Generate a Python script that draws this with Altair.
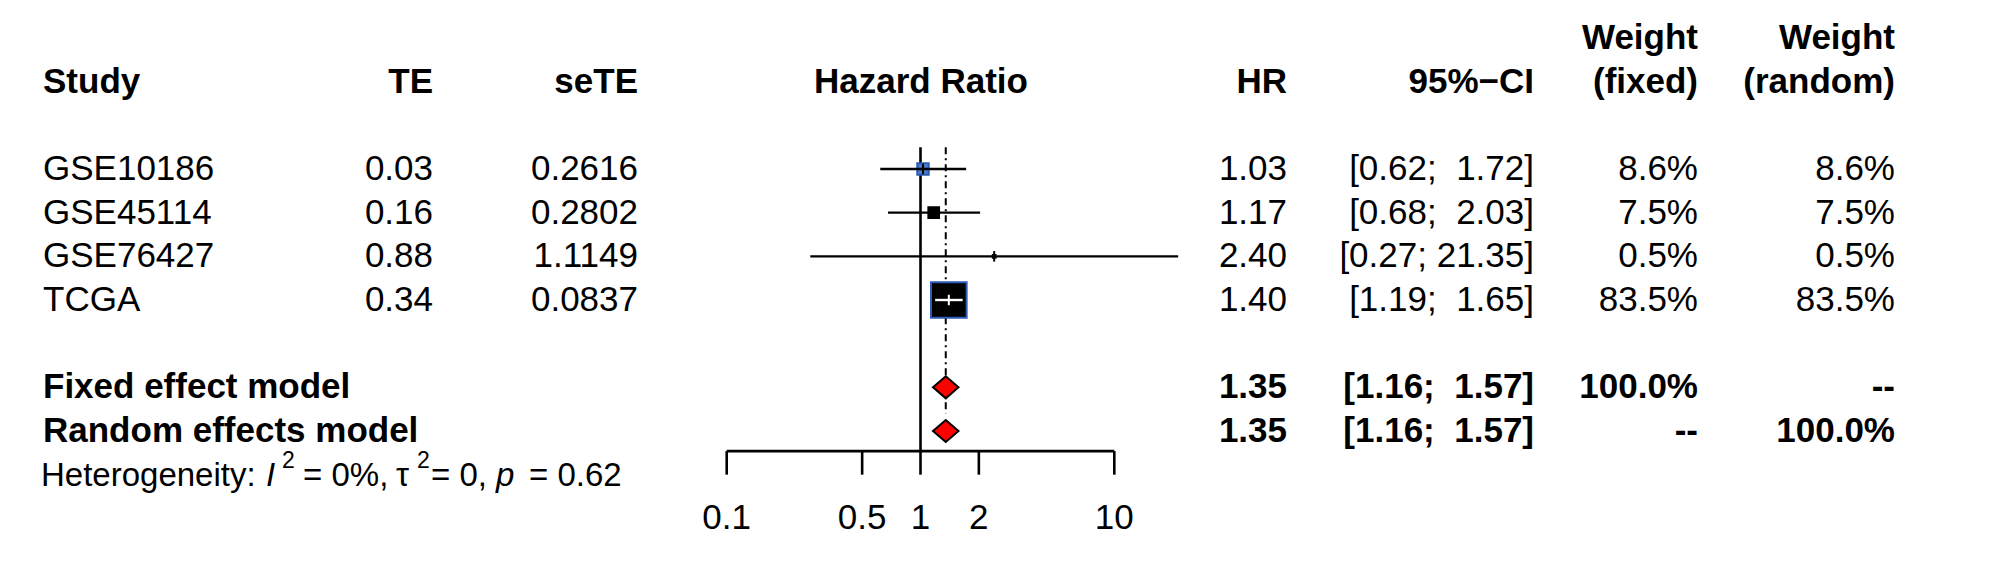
import altair as alt
import pandas as pd

# ---------------- data ----------------
studies = ["GSE10186", "GSE45114", "GSE76427", "TCGA"]
te = [0.03, 0.16, 0.88, 0.34]
sete = [0.2616, 0.2802, 1.1149, 0.0837]
hr = [1.03, 1.17, 2.40, 1.40]
ci_lower = [0.62, 0.68, 0.27, 1.19]
ci_upper = [1.72, 2.03, 21.35, 1.65]
w_fixed = [8.6, 7.5, 0.5, 83.5]
w_random = [8.6, 7.5, 0.5, 83.5]

models = ["Fixed effect model", "Random effects model"]
model_hr = [1.35, 1.35]
model_lower = [1.16, 1.16]
model_upper = [1.57, 1.57]
model_wf = ["100.0%", "--"]
model_wr = ["--", "100.0%"]

axis_ticks = [0.1, 0.5, 1, 2, 10]
null_value = 1

# ---------------- layout ----------------
W, H = 1992, 558
FONT = "Liberation Sans"
FS = 35
ROW_PX = 43.67
ROW0 = 161.0
YS = alt.Scale(domain=[-ROW0 / ROW_PX, (H - ROW0) / ROW_PX], reverse=True, nice=False, zero=False)
DEC = 193.8
X01 = 718.7
XS = alt.Scale(type="log", domain=[10 ** (-1 - X01 / DEC), 10 ** (1 + (W - X01 - 2 * DEC) / DEC)], nice=False)

def ci_text(l, u):
    return f"[{l:.2f}; {u:>5.2f}]".replace(" ", "\u00a0")

study_df = pd.DataFrame({
    "study": studies,
    "r": list(range(len(studies))),
    "te": [f"{v:.2f}" for v in te],
    "sete": [f"{v:.4f}" for v in sete],
    "hr": hr,
    "hr_s": [f"{v:.2f}" for v in hr],
    "lower": ci_lower,
    "upper": ci_upper,
    "ci": [ci_text(l, u) for l, u in zip(ci_lower, ci_upper)],
    "wf_v": w_fixed,
    "wf": [f"{v:.1f}%" for v in w_fixed],
    "wr": [f"{v:.1f}%" for v in w_random],
})

model_df = pd.DataFrame({
    "study": models,
    "r": [5, 6],
    "hr": model_hr,
    "hr_s": [f"{v:.2f}" for v in model_hr],
    "lower": model_lower,
    "upper": model_upper,
    "ci": [ci_text(l, u) for l, u in zip(model_lower, model_upper)],
    "wf": model_wf,
    "wr": model_wr,
})

def ytxt(field="r:Q"):
    return alt.Y(field, scale=YS, axis=None)

def text_layer(df, field, x, align, bold=False, size=FS):
    return alt.Chart(df).mark_text(
        align=align, baseline="middle", font=FONT, fontSize=size,
        fontWeight="bold" if bold else "normal", color="black"
    ).encode(x=alt.value(x), y=ytxt(), text=alt.Text(field + ":N"))

layers = []

# header
header_df = pd.DataFrame({
    "label": ["Study", "TE", "seTE", "Hazard Ratio", "HR", "95%\u2212CI", "Weight", "(fixed)", "Weight", "(random)"],
    "r": [-2, -2, -2, -2, -2, -2, -3, -2, -3, -2],
    "col": ["study", "te", "sete", "plot", "hr", "ci", "wf", "wf", "wr", "wr"],
})
col_x = {"study": (35, "left"), "te": (425, "right"), "sete": (630, "right"),
         "plot": (913, "center"), "hr": (1279, "right"), "ci": (1526, "right"),
         "wf": (1690, "right"), "wr": (1887, "right")}
for c, (x, a) in col_x.items():
    sub = header_df[header_df.col == c]
    layers.append(text_layer(sub, "label", x, a, bold=True))

# study rows text
for field, c in [("study", "study"), ("te", "te"), ("sete", "sete"), ("hr_s", "hr"),
                 ("ci", "ci"), ("wf", "wf"), ("wr", "wr")]:
    x, a = col_x[c]
    layers.append(text_layer(study_df, field, x, a))
# model rows text (bold)
for field, c in [("study", "study"), ("hr_s", "hr"), ("ci", "ci"), ("wf", "wf"), ("wr", "wr")]:
    x, a = col_x[c]
    layers.append(text_layer(model_df, field, x, a, bold=True))

# heterogeneity line (pieces: plotmath-like layout)
HET_R = 7.03
SUP_R = 6.68
het_pieces = [
    ("Heterogeneity:", 33, HET_R, "normal", 33),
    ("I", 258, HET_R, "italic", 33),
    ("2", 274, SUP_R, "normal", 23),
    ("= 0%,", 295, HET_R, "normal", 33),
    ("\u03c4", 388, HET_R, "normal", 33),
    ("2", 409, SUP_R, "normal", 23),
    ("= 0,", 423, HET_R, "normal", 33),
    ("p", 488, HET_R, "italic", 33),
    ("= 0.62", 521, HET_R, "normal", 33),
]
for t, x, r, style, size in het_pieces:
    d = pd.DataFrame({"t": [t], "r": [r]})
    layers.append(alt.Chart(d).mark_text(
        align="left", baseline="middle", font=FONT, fontSize=size, fontStyle=style, color="black"
    ).encode(x=alt.value(x), y=ytxt(), text="t:N"))

# ---------------- forest plot ----------------
ref_df = pd.DataFrame({"x": [null_value], "r1": [-0.5], "r2": [6.46]})
fixed_ref_df = pd.DataFrame({"x": [model_hr[0]], "r1": [-0.5], "r2": [5.6]})

def xenc(f):
    return alt.X(f, scale=XS, axis=None)

squares = alt.Chart(study_df).mark_square(opacity=1, strokeWidth=2).encode(
    x=xenc("hr:Q"), y=ytxt(),
    size=alt.Size("wf_v:Q", scale=alt.Scale(type="linear", domain=[0, 83.5], range=[0, 1270]), legend=None),
    fill=alt.Fill("study:N", scale=alt.Scale(domain=studies, range=["#4a7bd0", "black", "black", "black"]), legend=None),
    stroke=alt.Stroke("study:N", scale=alt.Scale(domain=studies, range=["#2d5bb5", "black", "black", "#2d5bb5"]), legend=None),
)

ref_line = alt.Chart(ref_df).mark_rule(color="black", strokeWidth=2.6).encode(
    x=xenc("x:Q"), y=ytxt("r1:Q"), y2="r2:Q")
fixed_line = alt.Chart(fixed_ref_df).mark_rule(color="black", strokeWidth=2, strokeDash=[7, 4, 2, 4]).encode(
    x=xenc("x:Q"), y=ytxt("r1:Q"), y2="r2:Q")

ci_color = alt.Color("study:N", scale=alt.Scale(domain=studies, range=["black", "black", "black", "white"]), legend=None)
ci_lines = alt.Chart(study_df).mark_rule(strokeWidth=2.4).encode(
    x=xenc("lower:Q"), x2="upper:Q", y=ytxt(), color=ci_color)
ci_ticks = alt.Chart(study_df).transform_calculate(
    r1="datum.r - 0.12", r2="datum.r + 0.12"
).mark_rule(strokeWidth=2).encode(
    x=xenc("hr:Q"), y=ytxt("r1:Q"), y2="r2:Q", color=ci_color)

# diamonds (one area per pooled model)
dia_layers = []
for m, r, l, c, u in zip(models, [5, 6], model_lower, model_hr, model_upper):
    d = pd.DataFrame({"x": [l, c, u], "r": [r, r, r], "k": [0, 1, 0]})
    dia_layers.append(
        alt.Chart(d).transform_calculate(
            ya="datum.r - 0.252 * datum.k", yb="datum.r + 0.252 * datum.k"
        ).mark_area(fill="#FF0000", stroke="black", strokeWidth=2, opacity=1,
                    fillOpacity=1, interpolate="linear", orient="vertical").encode(
            x=xenc("x:Q"), y=alt.Y("ya:Q", scale=YS, axis=None, stack=None), y2="yb:Q")
    )

# axis
ax_df = pd.DataFrame({"x": [min(axis_ticks)], "x2": [max(axis_ticks)], "r": [6.46]})
axis_line = alt.Chart(ax_df).mark_rule(color="black", strokeWidth=2.6).encode(
    x=xenc("x:Q"), x2="x2:Q", y=ytxt())
tick_df = pd.DataFrame({"x": axis_ticks, "lab": [f"{v:g}" for v in axis_ticks]})
axis_ticks_m = alt.Chart(tick_df).transform_calculate(r1="6.46", r2="7.0").mark_rule(
    color="black", strokeWidth=2.6).encode(
    x=xenc("x:Q"), y=ytxt("r1:Q"), y2="r2:Q")
axis_labels = alt.Chart(tick_df).transform_calculate(r="8.0").mark_text(
    align="center", baseline="middle", font=FONT, fontSize=FS, color="black").encode(
    x=xenc("x:Q"), y=ytxt(), text="lab:N")

forest = [ref_line, fixed_line, squares, ci_lines, ci_ticks] + dia_layers + [axis_line, axis_ticks_m, axis_labels]

chart = alt.layer(*(forest + layers)).properties(
    width=W, height=H, padding=0, autosize=alt.AutoSizeParams(type="none"),
    background="white"
).configure_view(stroke=None)

chart.save("out.html", embed_options={"renderer": "svg", "actions": False})
